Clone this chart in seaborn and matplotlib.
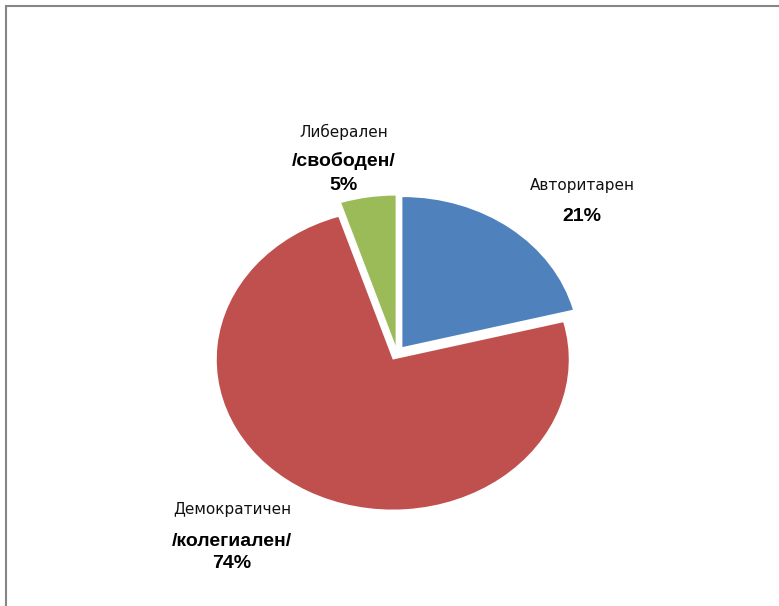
import matplotlib
matplotlib.use("Agg")
import matplotlib.pyplot as plt
import seaborn as sns
from matplotlib.patches import Rectangle

# Leadership style shares
categories = ["Авторитарен", "Демократичен", "Либерален"]
subtitles = ["", "/колегиален/", "/свободен/"]
shares = [21, 74, 5]
colors = ["#4F81BD", "#C0504D", "#9BBB59"]

sns.set_theme(style="white")
plt.rcParams["font.family"] = ["Liberation Sans", "DejaVu Sans"]

W, H = 779, 606
fig = plt.figure(figsize=(W / 100, H / 100), dpi=100)
fig.patch.set_facecolor("white")
ax = fig.add_axes([0, 0, 1, 1])

# pie centre and (elliptical) radii in pixels
cx, cy = 397, 353
rx, ry = 176, 150

ax.pie(shares, colors=colors, startangle=90, counterclock=False,
       explode=[0.05] * len(shares), wedgeprops=dict(linewidth=0))
ax.set_aspect("auto")
ax.set_xlim(-cx / rx, (W - cx) / rx)
ax.set_ylim(-(H - cy) / ry, cy / ry)
ax.axis("off")


def px(x, y):
    return x / W, 1 - y / H


# label anchors (pixel x, baselines for name / subtitle / percent)
label_pos = {
    "Авторитарен": (582, 190, None, 221),
    "Демократичен": (232, 514, 546, 568),
    "Либерален": (344, 137, 166, 190),
}

for name, sub, val in zip(categories, subtitles, shares):
    x, y_name, y_sub, y_pct = label_pos[name]
    fig.text(*px(x, y_name), name, ha="center", va="baseline",
             fontsize=11, color="#111111", family=["DejaVu Sans"])
    if sub:
        fig.text(*px(x, y_sub), sub, ha="center", va="baseline",
                 fontsize=14, fontweight="bold", color="black")
    fig.text(*px(x, y_pct), f"{val}%", ha="center", va="baseline",
             fontsize=14, fontweight="bold", color="black")

# outer chart frame
fig.patches.append(Rectangle(px(6, 620), (800 - 6) / W, (620 - 6) / H,
                             transform=fig.transFigure, fill=False,
                             edgecolor="#868686", linewidth=1.5))

fig.savefig("out.png", dpi=100, facecolor="white")
